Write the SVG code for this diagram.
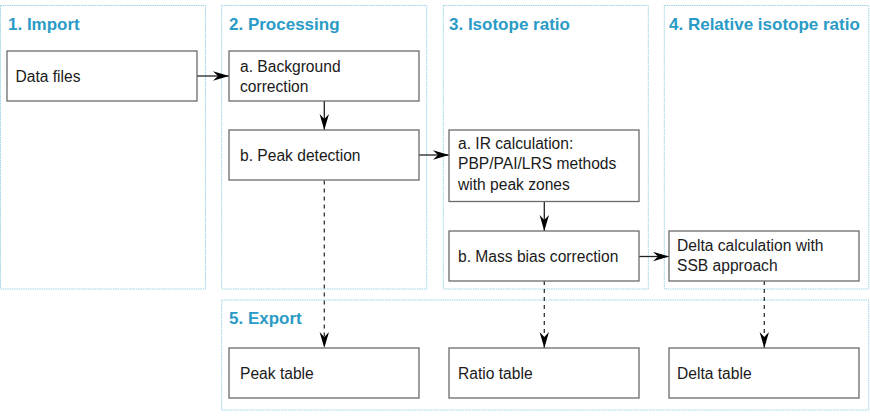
<svg xmlns="http://www.w3.org/2000/svg" width="870" height="420" viewBox="0 0 870 420">
<style>
.pane{fill:none;stroke:#9dd3e6;stroke-width:1;stroke-dasharray:1.5 0.8}
.title{font-family:"Liberation Sans",Arial,sans-serif;font-size:17px;font-weight:bold;fill:#2a9bc6}
.box{fill:#fff;stroke:#6b6b6b;stroke-width:1.3}
.lbl{font-family:"Liberation Sans",Arial,sans-serif;font-size:15.6px;fill:#1a1a1a}
.c{fill:none;stroke:#222;stroke-width:1.3}
.d{fill:none;stroke:#333;stroke-width:1.3;stroke-dasharray:4 4}
</style>
<defs>
<marker id="ah" markerWidth="18" markerHeight="12" refX="16" refY="5" orient="auto" markerUnits="userSpaceOnUse">
<path d="M0,0.3 L16,5 L0,9.7 L5,5 Z" fill="#000"/>
</marker>
</defs>
<g id="panes">
<g id="pane-import"><rect class="pane" x="0.5" y="5.5" width="205" height="283.5"/><text class="title" x="8" y="29.5">1. Import</text></g>
<g id="pane-processing"><rect class="pane" x="221.7" y="5.5" width="205" height="283.5"/><text class="title" x="229" y="29.5">2. Processing</text></g>
<g id="pane-isotope"><rect class="pane" x="443.3" y="5.5" width="205" height="283.5"/><text class="title" x="449" y="29.5">3. Isotope ratio</text></g>
<g id="pane-relative"><rect class="pane" x="664.3" y="5.5" width="204.5" height="283.5"/><text class="title" x="669" y="29.5">4. Relative isotope ratio</text></g>
<g id="pane-export"><rect class="pane" x="221.7" y="300" width="647" height="110"/><text class="title" x="229" y="324">5. Export</text></g>
</g>
<g id="connectors">
<path class="c" d="M197,76 H229" marker-end="url(#ah)"/>
<path class="c" d="M324.3,101 V130" marker-end="url(#ah)"/>
<path class="c" d="M419,155 H449" marker-end="url(#ah)"/>
<path class="c" d="M544.3,201.5 V231" marker-end="url(#ah)"/>
<path class="c" d="M639,256.5 H669" marker-end="url(#ah)"/>
<path class="d" d="M324.3,180.5 V348" marker-end="url(#ah)"/>
<path class="d" d="M544.3,281 V348" marker-end="url(#ah)"/>
<path class="d" d="M764.3,281 V348" marker-end="url(#ah)"/>
</g>
<g id="node-datafiles"><rect class="box" x="7" y="51" width="190" height="50"/><text class="lbl" x="15.5" y="81.5">Data files</text></g>
<g id="node-background"><rect class="box" x="229" y="51" width="190" height="50"/><text class="lbl" x="240"><tspan x="240" y="71.5">a. Background</tspan><tspan x="240" y="91.5">correction</tspan></text></g>
<g id="node-peak"><rect class="box" x="229" y="130" width="190" height="50"/><text class="lbl" x="240" y="161">b. Peak detection</text></g>
<g id="node-ir"><rect class="box" x="449" y="130" width="190" height="71.5"/><text class="lbl"><tspan x="458" y="148.5">a. IR calculation:</tspan><tspan x="458" y="169.3">PBP/PAI/LRS methods</tspan><tspan x="458" y="190">with peak zones</tspan></text></g>
<g id="node-massbias"><rect class="box" x="449" y="231" width="190" height="50"/><text class="lbl" x="458" y="261.5">b. Mass bias correction</text></g>
<g id="node-delta"><rect class="box" x="669" y="231" width="190" height="50"/><text class="lbl"><tspan x="677" y="250.5">Delta calculation with</tspan><tspan x="677" y="271">SSB approach</tspan></text></g>
<g id="node-peaktable"><rect class="box" x="229" y="348" width="190" height="50"/><text class="lbl" x="240" y="379">Peak table</text></g>
<g id="node-ratiotable"><rect class="box" x="449" y="348" width="190" height="50"/><text class="lbl" x="458" y="379">Ratio table</text></g>
<g id="node-deltatable"><rect class="box" x="669" y="348" width="190" height="50"/><text class="lbl" x="677" y="379">Delta table</text></g>
</svg>
